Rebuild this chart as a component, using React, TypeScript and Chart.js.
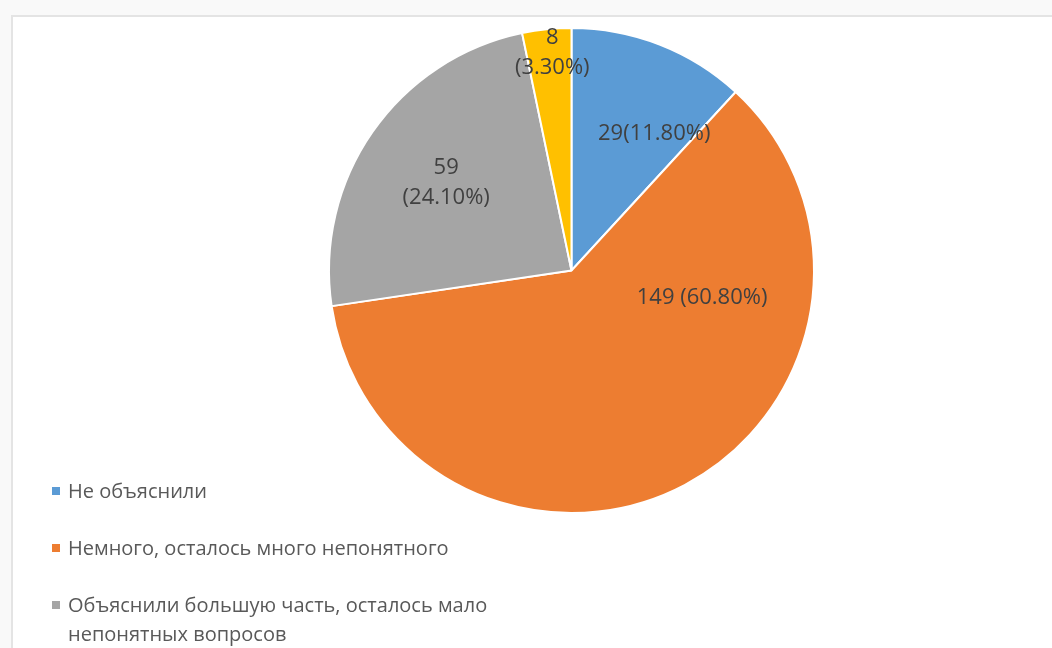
import React, { useEffect, useRef } from "react";
import { Chart, registerables } from "chart.js";

Chart.register(...registerables);

const categories = [
  "Не объяснили",
  "Немного, осталось много непонятного",
  "Объяснили большую часть, осталось мало непонятных вопросов",
  "Объяснили полностью",
];
const counts = [29, 149, 59, 8];
const percents = ["11.80%", "60.80%", "24.10%", "3.30%"];
const labelSeparators = ["", " ", "\n", "\n"];
const colors = ["#5B9BD5", "#ED7D31", "#A5A5A5", "#FFC000"];
// label placement inside each slice: fraction along the arc, fraction of radius
const labelAngleFrac = [0.73, 0.27, 0.5, 0.57];
const labelRadiusFrac = [0.66, 0.55, 0.63, 0.9];

const FONT = "'Open Sans', 'Noto Sans', sans-serif";

const sliceLabels = {
  id: "sliceLabels",
  afterDatasetsDraw(chart: any) {
    const ctx = chart.ctx;
    const meta = chart.getDatasetMeta(0);
    ctx.save();
    ctx.font = `22px ${FONT}`;
    ctx.fillStyle = "#404040";
    ctx.textAlign = "center";
    ctx.textBaseline = "middle";
    meta.data.forEach((arc: any, i: number) => {
      const p = arc.getProps(["x", "y", "startAngle", "endAngle", "outerRadius"], true);
      const a = p.startAngle + (p.endAngle - p.startAngle) * labelAngleFrac[i];
      const r = p.outerRadius * labelRadiusFrac[i];
      const cx = p.x + Math.cos(a) * r;
      const cy = p.y + Math.sin(a) * r;
      const text = `${counts[i]}${labelSeparators[i]}(${percents[i]})`;
      const lines = text.split("\n");
      const lh = 30;
      lines.forEach((ln, k) => {
        ctx.fillText(ln, cx, cy + (k - (lines.length - 1) / 2) * lh);
      });
    });
    ctx.restore();
  },
};

export default function App() {
  const ref = useRef<HTMLCanvasElement>(null);
  useEffect(() => {
    if (!ref.current) return;
    const chart = new Chart(ref.current, {
      type: "pie",
      data: {
        labels: categories,
        datasets: [
          {
            data: counts,
            backgroundColor: colors,
            borderColor: "#ffffff",
            borderWidth: 2,
            hoverOffset: 0,
          },
        ],
      },
      options: {
        animation: false,
        responsive: false,
        devicePixelRatio: 1,
        layout: { padding: { left: 328, right: 237, top: 27, bottom: 134 } },
        plugins: { legend: { display: false }, tooltip: { enabled: false } },
      },
      plugins: [sliceLabels],
    });
    return () => chart.destroy();
  }, []);

  return (
    <div style={{ position: "fixed", left: 0, top: 0, width: 1052, height: 648, overflow: "hidden", background: "#f9f9f9" }}>
      <div
        style={{
          position: "absolute",
          left: 11,
          top: 15,
          width: 1100,
          height: 700,
          border: "2px solid #e4e4e4",
          background: "#ffffff",
        }}
      />
      <canvas ref={ref} width={1052} height={648} style={{ position: "absolute", left: 0, top: 0, width: 1052, height: 648 }} />
      <div style={{ position: "absolute", left: 52, top: 476, fontFamily: FONT, fontSize: 20, color: "#595959" }}>
        {categories.map((c, i) => (
          <div key={i} style={{ display: "flex", alignItems: "flex-start", marginBottom: 28 }}>
            <div style={{ width: 8, height: 8, background: colors[i], marginTop: 11, marginRight: 8, flexShrink: 0 }} />
            <div style={{ width: 440, lineHeight: "29px" }}>{c}</div>
          </div>
        ))}
      </div>
    </div>
  );
}
